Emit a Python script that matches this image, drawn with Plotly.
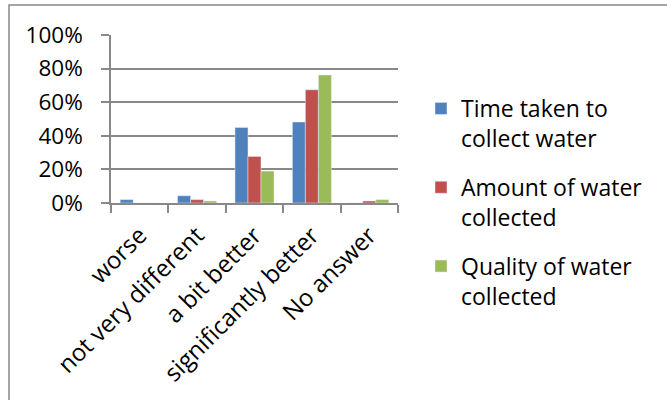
import plotly.graph_objects as go

categories = ["worse", "not very different", "a bit better", "significantly better", "No answer"]
time_taken = [0.02, 0.043, 0.45, 0.482, 0.0]
amount_collected = [0.0, 0.02, 0.277, 0.674, 0.012]
quality_collected = [0.0, 0.012, 0.19, 0.762, 0.02]
series_names = ["Time taken to<br>collect water", "Amount of water<br>collected", "Quality of water<br>collected"]
series_values = [time_taken, amount_collected, quality_collected]
colors = ["#4F81BD", "#C0504D", "#9BBB59"]
y_ticks = [0, 0.2, 0.4, 0.6, 0.8, 1.0]

W, H = 667, 400
ML, MR, MT, MB = 111, 269, 35, 197
PW, PH = W - ML - MR, H - MT - MB
FONT = "Open Sans"
GRAY = "#888888"

def px_x(p):
    return (p - ML) / PW

def px_y(p):
    return (H - MB - p) / PH

fig = go.Figure()
for i, (name, vals, col) in enumerate(zip(series_names, series_values, colors)):
    fig.add_trace(go.Bar(x=categories, y=vals, name=name, marker_color=col,
                         legendgroup=str(i)))

fig.update_layout(
    width=W, height=H,
    margin=dict(l=ML, r=MR, t=MT, b=MB, pad=0),
    paper_bgcolor="white", plot_bgcolor="white",
    barmode="group", bargap=0.32, bargroupgap=0,
    font=dict(family=FONT, size=23, color="black"),
    showlegend=True,
    legend=dict(x=px_x(421), xanchor="left", y=px_y(87), yanchor="top",
                font=dict(family=FONT, size=23, color="black"),
                valign="top", tracegroupgap=16, bgcolor="rgba(0,0,0,0)",
                maxheight=390),
    xaxis=dict(showline=True, linecolor=GRAY, linewidth=1.5, ticks="outside",
               tickson="boundaries", ticklen=8, tickcolor=GRAY, tickwidth=1.5,
               tickangle=-45, showgrid=False, ticklabelstandoff=7,
               tickfont=dict(family=FONT, size=24, color="black")),
    yaxis=dict(range=[0, 1], tickvals=y_ticks, tickformat=".0%", showgrid=True,
               gridcolor=GRAY, gridwidth=1.5, showline=True, linecolor=GRAY,
               linewidth=1.5, ticks="outside", ticklen=8, tickcolor=GRAY,
               tickwidth=1.5, zeroline=False, ticklabelstandoff=14,
               tickfont=dict(family=FONT, size=22.5, color="black")),
    shapes=[dict(type="rect", xref="paper", yref="paper",
                 x0=px_x(9), x1=px_x(W + 20), y0=px_y(5), y1=px_y(H + 20),
                 line=dict(color=GRAY, width=1.5), fillcolor="rgba(0,0,0,0)",
                 layer="below")],
)

fig.write_html("out.html")
